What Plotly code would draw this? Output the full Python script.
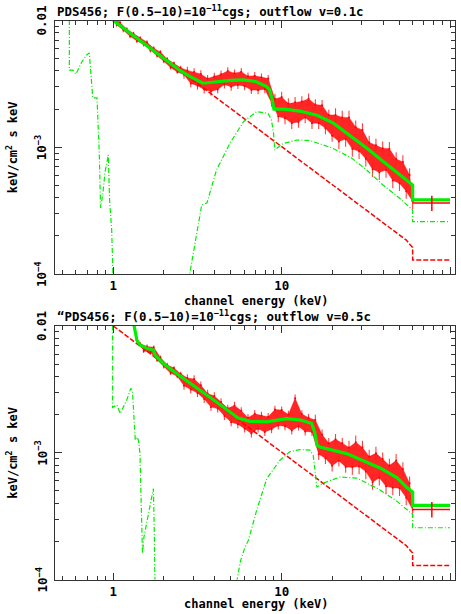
import math
import plotly.graph_objects as go

W, H = 461, 614

# ---------------- data ----------------
chan_E = [1.000, 1.047, 1.096, 1.148, 1.202, 1.259, 1.318, 1.380, 1.445, 1.514,
          1.585, 1.660, 1.738, 1.820, 1.905, 1.995, 2.089, 2.188, 2.291, 2.399,
          2.512, 2.630, 2.754, 2.884, 3.020, 3.162, 3.311, 3.467, 3.631, 3.802,
          3.981, 4.169, 4.365, 4.571, 4.786, 5.012, 5.248, 5.495, 5.754, 6.026,
          6.310, 6.607, 6.918, 7.244, 7.586, 7.943, 8.318, 8.710, 9.120, 9.550,
          10.00, 10.47, 10.96, 11.48, 12.02, 12.59, 13.18, 13.80, 14.45, 15.14,
          15.85, 16.60, 17.38, 18.20, 19.05, 19.95, 20.89, 21.88, 22.91, 23.99,
          25.12, 26.30, 27.54, 28.84, 30.20, 31.62, 33.11, 34.67, 36.31, 38.02,
          39.81, 41.69, 43.65, 45.71, 47.86, 50.12, 52.48, 54.95, 57.54, 60.00]

top_data_F = [1.047e-2, 9.25e-3, 9.64e-3, 8.36e-3, 8.55e-3, 7.50e-3, 7.89e-3, 6.90e-3, 7.26e-3, 6.47e-3,
              6.75e-3, 5.79e-3, 6.04e-3, 5.28e-3, 5.64e-3, 4.76e-3, 4.97e-3, 4.26e-3, 4.59e-3, 3.93e-3,
              4.24e-3, 3.74e-3, 4.04e-3, 3.19e-3, 3.93e-3, 3.06e-3, 3.79e-3, 2.86e-3, 3.48e-3, 2.75e-3,
              3.62e-3, 2.86e-3, 3.77e-3, 3.13e-3, 4.00e-3, 3.00e-3, 3.84e-3, 3.10e-3, 3.95e-3, 3.03e-3,
              3.64e-3, 2.83e-3, 3.66e-3, 2.82e-3, 3.57e-3, 2.87e-3, 3.48e-3, 2.24e-3, 2.40e-3, 1.75e-3,
              2.49e-3, 1.69e-3, 2.21e-3, 1.55e-3, 2.26e-3, 1.58e-3, 2.30e-3, 1.72e-3, 2.41e-3, 1.55e-3,
              2.17e-3, 1.55e-3, 2.14e-3, 1.41e-3, 1.80e-3, 1.23e-3, 1.80e-3, 1.11e-3, 1.72e-3, 1.16e-3,
              1.72e-3, 9.68e-4, 1.44e-3, 9.29e-4, 1.37e-3, 8.11e-4, 1.09e-3, 6.71e-4, 1.035e-3, 6.35e-4,
              9.82e-4, 6.61e-4, 9.75e-4, 5.47e-4, 8.07e-4, 5.19e-4, 7.66e-4, 4.50e-4, 6.04e-4, 3.73e-4]

bot_data_E = chan_E[8:]
bot_data_F = [7.24e-3, 6.34e-3,
              6.90e-3, 6.21e-3, 6.79e-3, 5.40e-3, 5.65e-3, 4.79e-3, 4.95e-3, 4.25e-3, 4.66e-3, 4.01e-3,
              4.20e-3, 3.38e-3, 3.89e-3, 3.15e-3, 3.82e-3, 2.96e-3, 3.41e-3, 2.65e-3, 2.93e-3, 2.30e-3,
              2.81e-3, 2.23e-3, 2.51e-3, 1.95e-3, 2.24e-3, 1.74e-3, 2.36e-3, 1.68e-3, 2.14e-3, 1.55e-3,
              1.89e-3, 1.42e-3, 2.03e-3, 1.55e-3, 1.97e-3, 1.46e-3, 1.92e-3, 1.53e-3, 2.19e-3, 1.64e-3,
              2.17e-3, 1.62e-3, 2.00e-3, 1.50e-3, 2.69e-3, 1.61e-3, 2.02e-3, 1.47e-3, 1.89e-3, 1.46e-3,
              1.81e-3, 9.75e-4, 1.39e-3, 9.04e-4, 1.19e-3, 7.89e-4, 1.28e-3, 8.65e-4, 1.19e-3, 7.71e-4,
              1.10e-3, 7.69e-4, 1.21e-3, 7.78e-4, 1.10e-3, 7.10e-4, 9.33e-4, 5.86e-4, 9.89e-4, 6.35e-4,
              8.91e-4, 5.43e-4, 7.94e-4, 5.30e-4, 8.67e-4, 5.25e-4, 7.46e-4, 4.42e-4, 5.75e-4, 3.55e-4]

# 1-sigma error (percent) of the channels, by energy band: upper band edge (keV), percent
err_band_top = [(2.6, 3.5), (9.0, 7.0), (20.0, 10.0), (61.0, 13.0)]
err_band_bot = [(2.6, 3.5), (15.5, 7.0), (25.0, 10.0), (61.0, 13.0)]

# power-law continuum (same in both panels)
pl_E = [1.0, 10.0, 50.0, 55.0, 58.0, 60.0, 60.0, 100.0]
pl_F = [1.00e-2, 1.01e-3, 2.03e-4, 1.85e-4, 1.70e-4, 1.62e-4, 1.29e-4, 1.29e-4]

# top panel (v = 0.1c)
top_tot_E = [1.0, 1.5, 2.0, 2.5, 2.86, 3.1, 3.41, 4.0, 4.5, 5.0, 5.9, 7.0, 8.15, 8.5, 8.8, 9.0,
             10.3, 12.8, 16.2, 20.3, 25.5, 32.1, 40.3, 50.6, 56.8, 60.0, 60.0, 100.0]
top_tot_F = [1.00e-2, 6.68e-3, 5.01e-3, 4.02e-3, 3.61e-3, 3.40e-3, 3.20e-3, 3.27e-3, 3.33e-3, 3.37e-3,
             3.40e-3, 3.30e-3, 3.01e-3, 2.83e-3, 2.36e-3, 2.00e-3, 2.00e-3, 1.93e-3, 1.79e-3, 1.55e-3,
             1.23e-3, 9.82e-4, 7.69e-4, 6.04e-4, 5.35e-4, 5.04e-4, 3.84e-4, 3.84e-4]

top_emis_E = [2.8, 2.9, 3.1, 3.35, 3.6, 3.8, 4.1, 4.94, 5.93, 7.1, 8.3, 8.7, 8.95, 9.1, 10.2, 12.3,
              14.7, 20.0, 26.0, 32.0, 40.0, 50.0, 55.0, 59.0, 60.0, 60.0, 100.0]
top_emis_F = [8.9e-5, 1.18e-4, 2.03e-4, 3.50e-4, 3.63e-4, 4.60e-4, 6.61e-4, 1.08e-3, 1.59e-3, 1.91e-3,
              1.85e-3, 1.64e-3, 1.29e-3, 9.51e-4, 1.07e-3, 1.14e-3, 1.13e-3, 9.86e-4, 8.22e-4, 6.61e-4,
              5.04e-4, 3.98e-4, 3.56e-4, 3.26e-4, 3.20e-4, 2.59e-4, 2.59e-4]

top_soft_E = [0.548, 0.548, 0.575, 0.60, 0.65, 0.695, 0.72, 0.735, 0.755, 0.80, 0.815, 0.826, 0.84,
              0.865, 0.893, 0.934, 0.95, 0.978, 1.0]
top_soft_F = [3.0e-2, 4.06e-3, 4.06e-3, 3.78e-3, 4.71e-3, 5.35e-3, 5.55e-3, 3.93e-3, 2.45e-3, 2.45e-3,
              1.37e-3, 8.69e-4, 3.32e-4, 4.20e-4, 6.38e-4, 8.69e-4, 3.84e-4, 2.22e-4, 7.9e-5]

top_cross = dict(E=78.0, Elo=60.0, Ehi=100.0, F=3.63e-4, Flo=3.14e-4, Fhi=4.15e-4)

# bottom panel (v = 0.5c)
bot_tot_E = [1.30, 1.33, 1.38, 1.44, 1.58, 1.73, 1.77, 2.0, 2.49, 3.0, 4.0, 5.0, 5.5, 6.5, 8.16,
             10.7, 12.9, 15.1, 15.8, 16.2, 16.9, 24.3, 32.1, 38.4, 48.3, 55.0, 60.0, 60.0, 100.0]
bot_tot_F = [1.26e-2, 1.00e-2, 7.74e-3, 7.08e-3, 6.67e-3, 6.46e-3, 5.90e-3, 5.01e-3, 4.03e-3, 3.39e-3,
             2.57e-3, 2.07e-3, 1.88e-3, 1.77e-3, 1.75e-3, 1.86e-3, 1.81e-3, 1.70e-3, 1.41e-3, 1.15e-3,
             1.11e-3, 9.84e-4, 8.45e-4, 7.59e-4, 6.38e-4, 5.37e-4, 4.90e-4, 3.85e-4, 3.85e-4]

bot_emis_E = [5.4, 5.7, 6.06, 6.34, 7.1, 8.16, 9.77, 11.2, 12.9, 14.7, 15.4, 15.8, 16.2, 17.7, 22.2,
              28.0, 38.4, 48.3, 56.8, 60.0, 60.0, 100.0]
bot_emis_F = [9.5e-5, 1.41e-4, 1.80e-4, 2.03e-4, 3.51e-4, 6.25e-4, 8.73e-4, 1.02e-3, 1.06e-3, 1.05e-3,
              9.55e-4, 7.24e-4, 5.36e-4, 5.77e-4, 6.43e-4, 6.31e-4, 5.09e-4, 4.15e-4, 3.46e-4, 3.26e-4,
              2.56e-4, 2.56e-4]

bot_soft_E = [0.99, 0.99, 1.05, 1.10, 1.20, 1.27, 1.30, 1.35, 1.38, 1.41, 1.44, 1.47, 1.49, 1.52,
              1.56, 1.61, 1.69, 1.73, 1.75, 1.77]
bot_soft_F = [3.0e-2, 2.28e-3, 2.38e-3, 2.04e-3, 2.60e-3, 3.22e-3, 3.03e-3, 1.26e-3, 1.33e-3, 1.26e-3,
              9.86e-4, 4.22e-4, 1.60e-4, 2.16e-4, 2.59e-4, 3.30e-4, 4.48e-4, 5.21e-4, 2.59e-4, 7.9e-5]

bot_cross = dict(E=78.0, Elo=60.0, Ehi=100.0, F=3.56e-4, Flo=3.08e-4, Fhi=4.08e-4)

titles = ["PDS456; F(0.5\u221210)=10<sup>\u221211</sup>cgs; outflow v=0.1c",
          "\u201cPDS456; F(0.5\u221210)=10<sup>\u221211</sup>cgs; outflow v=0.5c"]
x_title = "channel energy (keV)"
y_title = "keV/cm<sup>2</sup> s keV"
x_tickvals = [1, 10, 100]
x_ticktext = ["1", "10", "100"]
x_minor = [0.5, 0.6, 0.7, 0.8, 0.9, 2, 3, 4, 5, 6, 7, 8, 9, 20, 30, 40, 50, 60, 70, 80, 90]
y_tickvals = [1e-4, 1e-3, 1e-2]
y_ticktext = ["10<sup>\u22124</sup>", "10<sup>\u22123</sup>", "0.01"]
y_minor = [2e-4, 3e-4, 4e-4, 5e-4, 6e-4, 7e-4, 8e-4, 9e-4, 2e-3, 3e-3, 4e-3, 5e-3, 6e-3, 7e-3, 8e-3, 9e-3]

# ---------------- figure ----------------
RED = "#ff0000"
GREEN = "#00ee00"
FONT = "DejaVu Sans Mono"
AX = "#333333"


def band_err(E_list, bands):
    out = []
    for e in E_list:
        for edge, pct in bands:
            if e <= edge:
                out.append(pct)
                break
    return out


fig = go.Figure()

panels = [
    dict(xa="x", ya="y", dE=chan_E, dF=top_data_F, err=err_band_top, tE=top_tot_E, tF=top_tot_F,
         eE=top_emis_E, eF=top_emis_F, sE=top_soft_E, sF=top_soft_F, c=top_cross),
    dict(xa="x2", ya="y2", dE=bot_data_E, dF=bot_data_F, err=err_band_bot, tE=bot_tot_E, tF=bot_tot_F,
         eE=bot_emis_E, eF=bot_emis_F, sE=bot_soft_E, sF=bot_soft_F, c=bot_cross),
]

for p in panels:
    xa, ya = p["xa"], p["ya"]
    pct = band_err(p["dE"], p["err"])
    E, F = p["dE"], p["dF"]
    errs = [f * q / 100.0 for f, q in zip(F, pct)]
    # solid core of the channel scatter
    up_E = [E[i] for i in range(0, len(E), 2)]
    up_F = [F[i] for i in range(0, len(E), 2)]
    lo_E = [E[i] for i in range(1, len(E), 2)]
    lo_F = [F[i] for i in range(1, len(E), 2)]
    fig.add_trace(go.Scatter(x=up_E + lo_E[::-1], y=up_F + lo_F[::-1], xaxis=xa, yaxis=ya,
                             mode="lines", fill="toself", fillcolor="rgba(255,0,0,0.85)",
                             line=dict(width=0.6, color="rgba(255,0,0,0.6)"), hoverinfo="skip"))
    # channel values with their error bars
    fig.add_trace(go.Scatter(x=E, y=F, xaxis=xa, yaxis=ya, mode="markers",
                             marker=dict(size=2, color=RED, line=dict(width=0)),
                             error_y=dict(type="data", array=errs, color="rgba(255,30,30,0.85)",
                                          thickness=1.1, width=0),
                             hoverinfo="skip"))
    # power-law component
    fig.add_trace(go.Scatter(x=pl_E, y=pl_F, xaxis=xa, yaxis=ya, mode="lines",
                             line=dict(color=RED, width=1.5, dash="5px,2px"), hoverinfo="skip"))
    # soft absorbed component
    fig.add_trace(go.Scatter(x=p["sE"], y=p["sF"], xaxis=xa, yaxis=ya, mode="lines",
                             line=dict(color=GREEN, width=1.2, dash="5px,2px,1px,2px"),
                             hoverinfo="skip"))
    # emission / reflection component
    fig.add_trace(go.Scatter(x=p["eE"], y=p["eF"], xaxis=xa, yaxis=ya, mode="lines",
                             line=dict(color=GREEN, width=1.2, dash="5px,2px,1px,2px"),
                             hoverinfo="skip"))
    # total model
    fig.add_trace(go.Scatter(x=p["tE"], y=p["tF"], xaxis=xa, yaxis=ya, mode="lines",
                             line=dict(color=GREEN, width=3.2), hoverinfo="skip"))
    # high-energy bin
    c = p["c"]
    fig.add_trace(go.Scatter(x=[c["E"]], y=[c["F"]], xaxis=xa, yaxis=ya, mode="markers",
                             marker=dict(size=1, color=RED),
                             error_x=dict(type="data", symmetric=False, array=[c["Ehi"] - c["E"]],
                                          arrayminus=[c["E"] - c["Elo"]], color=RED,
                                          thickness=1.5, width=0),
                             error_y=dict(type="data", symmetric=False, array=[c["Fhi"] - c["F"]],
                                          arrayminus=[c["F"] - c["Flo"]], color=RED,
                                          thickness=1.5, width=0),
                             hoverinfo="skip"))

x0, x1 = 55, 455
panel_px = [(20.5, 274.0), (326.0, 579.5)]


def xdom():
    return [x0 / W, x1 / W]


def ydom(t, b):
    return [1 - b / H, 1 - t / H]


axfont = dict(family=FONT, size=12.5, color="black", weight="bold")
common_x = dict(type="log", range=[-0.3464, 2.0297], tickvals=x_tickvals, ticktext=x_ticktext,
                ticks="inside", ticklen=7, tickwidth=1, tickcolor=AX, showline=True,
                linecolor=AX, linewidth=1, mirror="allticks", showgrid=False, zeroline=False,
                tickfont=axfont, automargin=False,
                minor=dict(tickvals=x_minor, ticks="inside", ticklen=4, tickcolor=AX, tickwidth=1,
                           showgrid=False))
common_y = dict(type="log", range=[-4, -2], tickvals=y_tickvals, showticklabels=False,
                ticks="inside", ticklen=7, tickwidth=1, tickcolor=AX, showline=True,
                linecolor=AX, linewidth=1, mirror="allticks", showgrid=False, zeroline=False,
                automargin=False,
                minor=dict(tickvals=y_minor, ticks="inside", ticklen=4, tickcolor=AX, tickwidth=1,
                           showgrid=False))

fig.update_layout(
    width=W, height=H, margin=dict(l=0, r=0, t=0, b=0, autoexpand=False),
    paper_bgcolor="white", plot_bgcolor="white", showlegend=False,
    xaxis=dict(domain=xdom(), anchor="y", **common_x),
    yaxis=dict(domain=ydom(*panel_px[0]), anchor="x", **common_y),
    xaxis2=dict(domain=xdom(), anchor="y2", **common_x),
    yaxis2=dict(domain=ydom(*panel_px[1]), anchor="x2", **common_y),
)

ann = []
title_y = [11, 316]
xt_y = [300.5, 604]
yrefs = ["y", "y2"]
for k, (t, b) in enumerate(panel_px):
    ann.append(dict(text=titles[k], x=x0 / W, y=1 - title_y[k] / H, xref="paper", yref="paper",
                    xanchor="left", yanchor="middle", showarrow=False,
                    font=dict(family=FONT, size=12.4, color="black", weight="bold")))
    ann.append(dict(text=x_title, x=(183 + 330) / 2 / W, y=1 - xt_y[k] / H, xref="paper",
                    yref="paper", xanchor="center", yanchor="middle", showarrow=False,
                    font=dict(family=FONT, size=12, color="black", weight="bold")))
    ann.append(dict(text=y_title, x=12 / W, y=1 - ((t + b) / 2) / H, xref="paper", yref="paper",
                    xanchor="center", yanchor="middle", textangle=-90, showarrow=False,
                    font=dict(family=FONT, size=12, color="black", weight="bold")))
    # rotated y tick labels
    for v, txt in zip(y_tickvals, y_ticktext):
        ann.append(dict(text=txt, x=41 / W, y=math.log10(v), xref="paper", yref=yrefs[k],
                        xanchor="center", yanchor="middle", textangle=-90, showarrow=False,
                        font=dict(family=FONT, size=12.5, color="black", weight="bold")))
fig.update_layout(annotations=ann)

fig.write_html("out.html", config={"displayModeBar": False},
               post_script="document.body.style.margin='0';document.body.style.overflow='hidden';")
